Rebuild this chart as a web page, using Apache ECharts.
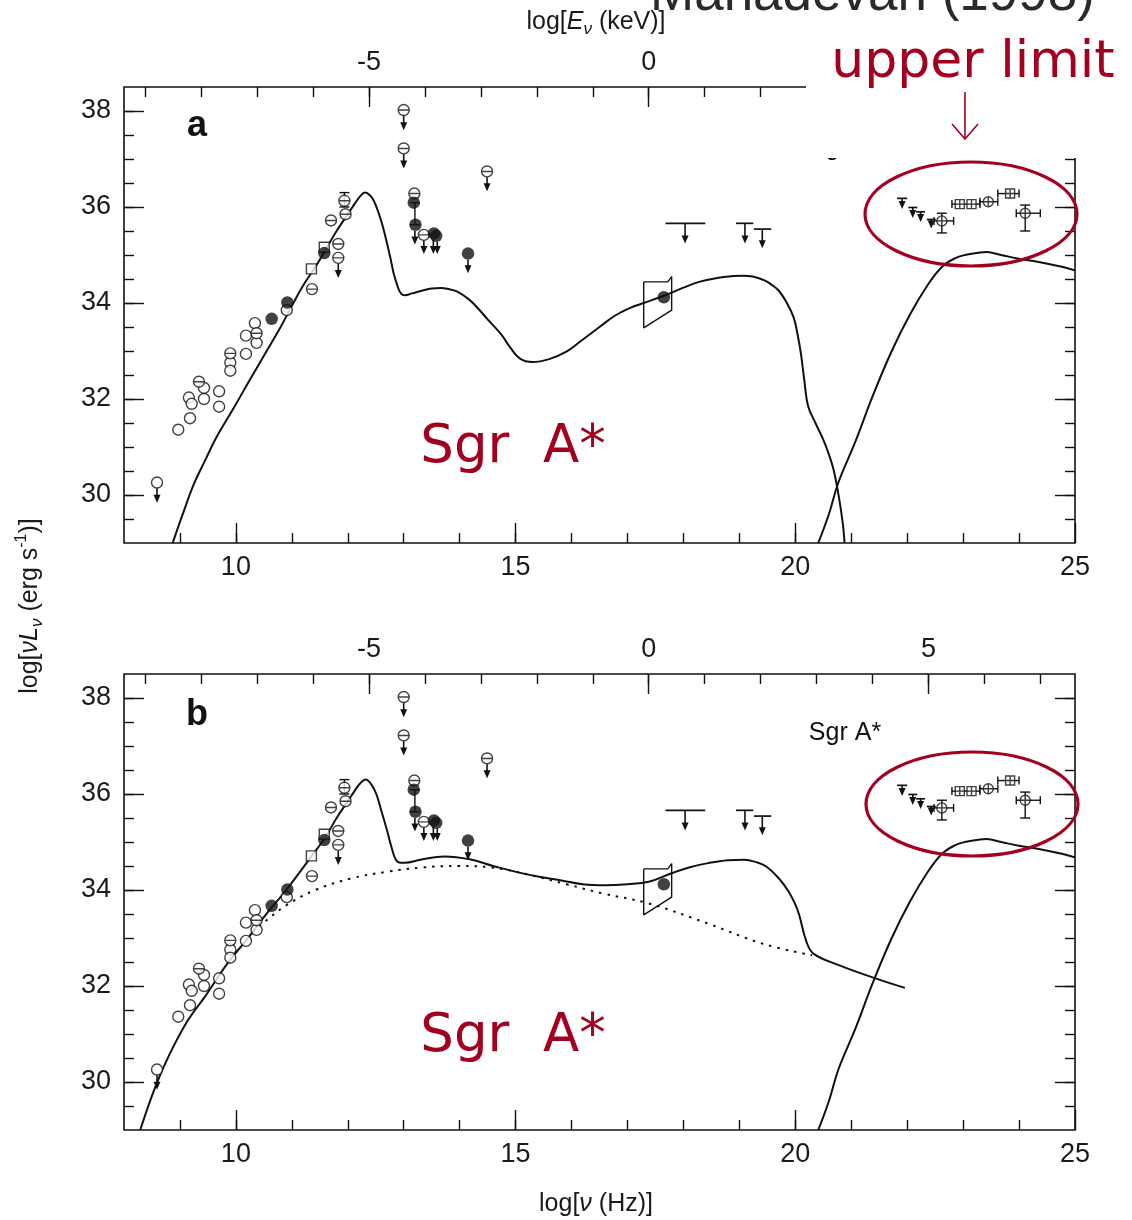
<!DOCTYPE html>
<html>
<head>
<meta charset="utf-8">
<script src="https://cdn.jsdelivr.net/npm/echarts@6/dist/echarts.min.js"></script>
<style>
  html, body { margin: 0; padding: 0; background: #fff; }
  #main { width: 1132px; height: 1220px; }
</style>
</head>
<body>
<div id="main"></div>
<script>
// ---- data (log nu [Hz], log nuL_nu [erg/s]) ----
var E_SHIFT = 17.38; // log nu of 1 keV

var bottomLabels = [10, 15, 20, 25];
var topLabels = [-5, 0, 5];
var yLabels = [30, 32, 34, 36, 38];

// panel a model
var modelA = [[8.87,29.0],[9.05,29.6],[9.25,30.23],[9.45,30.72],[9.65,31.2],[9.95,31.79],[10.25,32.4],[10.55,33.0],[10.8,33.5],[11.0,33.94],[11.2,34.36],[11.42,34.75],[11.6,35.1],[11.8,35.5],[12.0,35.85],[12.12,36.06],[12.22,36.22],[12.31,36.3],[12.4,36.24],[12.47,36.12],[12.55,35.88],[12.63,35.58],[12.7,35.25],[12.76,34.95],[12.82,34.62],[12.89,34.35],[12.95,34.2],[13.02,34.16],[13.15,34.2],[13.34,34.26],[13.5,34.3],[13.66,34.31],[13.8,34.29],[13.95,34.24],[14.17,34.07],[14.35,33.86],[14.5,33.66],[14.74,33.35],[14.9,33.08],[15.08,32.84],[15.3,32.77],[15.6,32.83],[15.9,32.98],[16.18,33.22],[16.5,33.5],[16.78,33.74],[17.05,33.9],[17.29,34.0],[17.65,34.15],[18.0,34.32],[18.28,34.44],[18.6,34.52],[18.88,34.56],[19.06,34.57],[19.24,34.55],[19.45,34.47],[19.6,34.36],[19.71,34.25],[19.85,34.0],[19.97,33.7],[20.04,33.35],[20.1,32.95],[20.16,32.4],[20.23,31.85],[20.36,31.5],[20.49,31.18],[20.6,30.85],[20.69,30.5],[20.78,29.95],[20.85,29.4],[20.88,29.0]];

// panel b model (solid) and the dotted component
var modelB = [[8.29,29.0],[8.56,29.9],[8.82,30.59],[9.14,31.28],[9.46,31.8],[9.85,32.47],[10.23,33.02],[10.55,33.51],[10.9,34.0],[11.35,34.7],[11.6,35.1],[11.8,35.5],[12.0,35.85],[12.12,36.06],[12.22,36.22],[12.32,36.3],[12.42,36.2],[12.51,36.0],[12.6,35.65],[12.7,35.25],[12.78,34.9],[12.86,34.63],[12.94,34.57],[13.02,34.57],[13.3,34.63],[13.73,34.7],[14.18,34.64],[14.63,34.49],[15.27,34.31],[15.82,34.2],[16.2,34.12],[16.61,34.1],[17.0,34.12],[17.38,34.17],[17.79,34.35],[18.1,34.47],[18.44,34.56],[18.8,34.62],[19.09,34.63],[19.3,34.58],[19.48,34.49],[19.7,34.25],[19.88,33.97],[20.0,33.7],[20.07,33.48],[20.2,32.92],[20.33,32.67],[20.79,32.43],[21.38,32.18],[21.96,31.96]];
var dottedB = [[10.3,33.12],[10.58,33.4],[10.9,33.68],[11.42,34.0],[12.06,34.24],[12.7,34.38],[13.34,34.47],[13.99,34.5],[14.56,34.47],[15.27,34.31],[15.91,34.12],[16.55,33.93],[17.38,33.72],[18.44,33.3],[19.42,32.88],[20.3,32.64]];

// gamma-ray component (both panels)
var gammaCurve = [[20.41,29.0],[20.6,29.6],[20.77,30.26],[21.07,31.1],[21.39,32.08],[21.72,32.99],[22.05,33.76],[22.37,34.38],[22.62,34.75],[22.85,34.93],[23.03,35.0],[23.3,35.05],[23.42,35.06],[23.68,35.0],[24.0,34.92],[24.33,34.86],[24.7,34.77],[25.0,34.68]];

// X-ray bow tie
var xrayBox = [[17.29,34.44],[17.72,34.44],[17.79,34.55],[17.79,33.85],[17.29,33.48],[17.29,34.44]];

// observations
var openPts = [[8.59,30.26],[8.97,31.36],[9.18,31.6],[9.16,32.03],[9.21,31.9],[9.43,32.23],[9.43,32.0],[9.70,32.16],[9.70,31.84],[9.9,32.76],[9.9,32.59],[10.18,33.32],[10.18,32.94],[10.34,33.58],[10.37,33.17],[10.91,33.85]];
var linedPts = [[9.34,32.36],[9.9,32.95],[10.37,33.37],[11.36,34.29],[11.7,35.72],[11.83,35.23],[11.83,34.94],[11.94,36.13],[11.96,35.85],[13.0,38.02],[13.0,37.22],[13.19,36.28],[13.36,35.42],[14.49,36.74]];
var squarePts = [[11.35,34.71],[11.58,35.16]];
var filledPts = [[10.64,33.67],[10.92,34.01],[11.58,35.04],[13.18,36.09],[13.21,35.63],[13.54,35.45],[13.58,35.4],[14.15,35.03],[17.65,34.12]];
var gammaCircles = [[22.62,35.71],[23.45,36.11],[24.11,35.87]];
var gammaSquares = [[22.94,36.06],[23.15,36.06],[23.84,36.28]];

// upper limits: [x, from, tip]
var upperArrows = [[8.59,30.14,29.84],[11.83,34.82,34.52],[13.0,37.9,37.6],[13.0,37.1,36.8],[13.2,35.5,35.22],[13.36,35.3,35.02],[13.53,35.32,35.02],[13.6,35.28,35.02],[14.15,34.9,34.62],[14.49,36.62,36.33],[18.03,35.66,35.24],[19.10,35.66,35.24],[19.41,35.54,35.14],[21.91,36.18,35.96],[22.1,35.99,35.77],[22.24,35.9,35.69],[22.43,35.74,35.55]];
// horizontal bars: [x1, x2, y]
var ulBars = [[17.68,18.39,35.66],[18.94,19.25,35.66],[19.26,19.57,35.54],[21.82,22.0,36.18],[22.02,22.18,35.99],[22.16,22.32,35.9],[22.35,22.51,35.74]];
// error bars: vertical [x, lo, hi], horizontal [lo, hi, y]
var vErr = [[11.94,36.0,36.3],[13.2,35.63,36.09],[22.62,35.46,35.87],[24.11,35.5,36.04]];
var hErr = [[22.48,22.83,35.71],[23.95,24.38,35.87],[22.8,23.3,36.06],[23.3,23.62,36.11],[23.62,24.0,36.28]];

// ---- helpers ----
var INK = '#111';
var RED = '#a3001f';
var tickFont = { fontFamily: 'Liberation Sans', fontSize: 27, color: '#1a1a1a' };

function range(a, b, s) {
  var out = [];
  for (var v = a; v <= b + 1e-9; v += s) out.push(Math.round(v * 100) / 100);
  return out;
}

var xAxes = [], yAxes = [], series = [];
var grids = [
  { left: 124, top: 87, width: 951, height: 456 },
  { left: 124, top: 674, width: 951, height: 456 }
];

function tickAxis(g, pos, min, max, values, len, labels) {
  var ax = {
    gridIndex: g, type: 'value', position: pos, min: min, max: max,
    axisLine: { show: false, onZero: false }, splitLine: { show: false },
    axisTick: { show: true, inside: true, length: len, customValues: values,
                lineStyle: { color: INK, width: 1.4 } },
    axisLabel: { show: !!labels, customValues: values, margin: 11 }
  };
  if (labels) { Object.assign(ax.axisLabel, tickFont); }
  return ax;
}

grids.forEach(function (gr, g) {
  xAxes.push(
    tickAxis(g, 'bottom', 8, 25, bottomLabels, 20, true),
    tickAxis(g, 'bottom', 8, 25, range(9, 24, 1), 10, false),
    tickAxis(g, 'top', 8 - E_SHIFT, 25 - E_SHIFT, topLabels, 20, true),
    tickAxis(g, 'top', 8 - E_SHIFT, 25 - E_SHIFT, range(-9, 7, 1), 10, false)
  );
  yAxes.push(
    tickAxis(g, 'left', 29, 38.5, yLabels, 20, true),
    tickAxis(g, 'left', 29, 38.5, range(29.5, 38, 0.5), 10, false),
    tickAxis(g, 'right', 29, 38.5, yLabels, 20, false),
    tickAxis(g, 'right', 29, 38.5, range(29.5, 38, 0.5), 10, false)
  );
  yAxes[yAxes.length - 4].axisLabel.margin = 13;
});

function line(g, data, extra) {
  return Object.assign({
    type: 'line', xAxisIndex: g * 4, yAxisIndex: g * 4, data: data,
    showSymbol: false, symbol: 'none', smooth: 0.4,
    lineStyle: { color: INK, width: 2 }, silent: true, z: 3
  }, extra || {});
}
function scatter(g, data, symbol, size, filled) {
  return {
    type: 'scatter', xAxisIndex: g * 4, yAxisIndex: g * 4, data: data,
    symbol: symbol, symbolSize: size, silent: true, z: 5,
    itemStyle: filled ? { color: INK } :
      { color: '#fff', borderColor: INK, borderWidth: 1.4 }
  };
}
function custom(g, data, render) {
  return { type: 'custom', xAxisIndex: g * 4, yAxisIndex: g * 4, data: data,
           renderItem: render, silent: true, z: 4 };
}
var stroke = { stroke: INK, lineWidth: 1.4 };
function renderArrow(params, api) {
  var p0 = api.coord([api.value(0), api.value(1)]);
  var p1 = api.coord([api.value(0), api.value(2)]);
  return { type: 'group', children: [
    { type: 'line', shape: { x1: p0[0], y1: p0[1], x2: p1[0], y2: p1[1] - 5 }, style: { stroke: INK, lineWidth: 1.6 } },
    { type: 'polygon', shape: { points: [[p1[0] - 3.5, p1[1] - 8], [p1[0] + 3.5, p1[1] - 8], [p1[0], p1[1]]] },
      style: { fill: INK } }
  ] };
}
function renderHBar(params, api) {
  var a = api.coord([api.value(0), api.value(2)]);
  var b = api.coord([api.value(1), api.value(2)]);
  return { type: 'line', shape: { x1: a[0], y1: a[1], x2: b[0], y2: b[1] }, style: { stroke: INK, lineWidth: 1.7 } };
}
function renderVErr(params, api) {
  var a = api.coord([api.value(0), api.value(1)]);
  var b = api.coord([api.value(0), api.value(2)]);
  return { type: 'group', children: [
    { type: 'line', shape: { x1: a[0], y1: a[1], x2: b[0], y2: b[1] }, style: stroke },
    { type: 'line', shape: { x1: a[0] - 5, y1: a[1], x2: a[0] + 5, y2: a[1] }, style: stroke },
    { type: 'line', shape: { x1: b[0] - 5, y1: b[1], x2: b[0] + 5, y2: b[1] }, style: stroke }
  ] };
}
function renderHErr(params, api) {
  var a = api.coord([api.value(0), api.value(2)]);
  var b = api.coord([api.value(1), api.value(2)]);
  return { type: 'group', children: [
    { type: 'line', shape: { x1: a[0], y1: a[1], x2: b[0], y2: b[1] }, style: stroke },
    { type: 'line', shape: { x1: a[0], y1: a[1] - 4, x2: a[0], y2: a[1] + 4 }, style: stroke },
    { type: 'line', shape: { x1: b[0], y1: b[1] - 4, x2: b[0], y2: b[1] + 4 }, style: stroke }
  ] };
}

var circleLine = 'path://M10,0A10,10 0 1,1 -10,0A10,10 0 1,1 10,0ZM-10,0L10,0';
var circleCross = 'path://M10,0A10,10 0 1,1 -10,0A10,10 0 1,1 10,0ZM-10,0L10,0M0,-10L0,10';
var squareCross = 'path://M-10,-10L10,-10L10,10L-10,10ZM-10,0L10,0M0,-10L0,10';

[0, 1].forEach(function (g) {
  series.push(line(g, g === 0 ? modelA : modelB));
  series.push(line(g, gammaCurve));
  if (g === 1) {
    series.push(line(1, dottedB, { lineStyle: { color: INK, width: 2, type: [2.5, 6] } }));
  }
  series.push(line(g, xrayBox, { smooth: false, lineStyle: { color: INK, width: 1.4 } }));
  series.push(custom(g, upperArrows, renderArrow));
  series.push(custom(g, ulBars, renderHBar));
  series.push(custom(g, vErr, renderVErr));
  series.push(custom(g, hErr, renderHErr));
  series.push(scatter(g, openPts, 'circle', 11, false));
  series.push(scatter(g, linedPts, circleLine, 11, false));
  series.push(scatter(g, squarePts, 'rect', 10, false));
  series.push(scatter(g, filledPts, 'circle', 12.5, true));
  series.push(scatter(g, gammaCircles, circleCross, 10, false));
  series.push(scatter(g, gammaSquares, squareCross, 9, false));
});

var rich = {
  i: { fontStyle: 'italic', fontFamily: 'Liberation Sans', fontSize: 25, lineHeight: 32, verticalAlign: 'middle' },
  s: { fontStyle: 'italic', fontFamily: 'Liberation Sans', fontSize: 17, lineHeight: 17, verticalAlign: 'bottom' },
  p: { fontFamily: 'Liberation Sans', fontSize: 16, lineHeight: 17, verticalAlign: 'top' }
};
function label(x, y, text, rot) {
  return { type: 'text', x: x, y: y, rotation: rot || 0, z: 50,
    style: { text: text, rich: rich, fill: '#1a1a1a', align: 'center', verticalAlign: 'middle',
             fontFamily: 'Liberation Sans', fontSize: 25, lineHeight: 32 } };
}

var graphics = [
  label(596, 22, 'log[{i|E}{s|ν} (keV)]'),
  label(596, 1204, 'log[{i|ν} (Hz)]'),
  label(30, 606, 'log[{i|νL}{s|ν} (erg s{p|-1})]', Math.PI / 2),
  { type: 'text', x: 197, y: 126, z: 50, style: { text: 'a', fontFamily: 'Liberation Sans', fontWeight: 900, fontSize: 36, fill: INK, align: 'center', verticalAlign: 'middle' } },
  { type: 'text', x: 197, y: 715, z: 50, style: { text: 'b', fontFamily: 'Liberation Sans', fontWeight: 900, fontSize: 36, fill: INK, align: 'center', verticalAlign: 'middle' } },
  { type: 'text', x: 845, y: 148, z: 50, style: { text: 'Sgr A*', fontFamily: 'Liberation Sans', fontSize: 25, fill: INK, align: 'center', verticalAlign: 'middle' } },
  { type: 'text', x: 845, y: 733, z: 50, style: { text: 'Sgr A*', fontFamily: 'Liberation Sans', fontSize: 25, fill: INK, align: 'center', verticalAlign: 'middle' } },
  // white patch of the slide that covers the figure corner
  { type: 'rect', z: 80, shape: { x: 806, y: 0, width: 326, height: 158 }, style: { fill: '#fff' } },
  { type: 'text', x: 650, y: 22, z: 90, style: { text: 'Mahadevan (1998)', fontFamily: 'Liberation Sans', fontSize: 53, fill: '#2a2a2a', align: 'left', verticalAlign: 'bottom' } },
  { type: 'text', x: 973, y: 63, z: 90, style: { text: 'upper limit', fontFamily: 'DejaVu Sans', fontSize: 52, fill: RED, align: 'center', verticalAlign: 'middle' } },
  { type: 'line', z: 90, shape: { x1: 965, y1: 92, x2: 965, y2: 139 }, style: { stroke: RED, lineWidth: 1.6 } },
  { type: 'polyline', z: 90, shape: { points: [[952, 124], [965, 139], [978, 124]] }, style: { stroke: RED, lineWidth: 1.6, fill: null } },
  { type: 'ellipse', z: 90, shape: { cx: 971, cy: 214, rx: 106, ry: 52 }, style: { stroke: RED, lineWidth: 3.2, fill: null } },
  { type: 'ellipse', z: 90, shape: { cx: 972, cy: 804, rx: 106, ry: 52 }, style: { stroke: RED, lineWidth: 3.2, fill: null } },
  { type: 'text', x: 513, y: 448, z: 90, style: { text: 'Sgr  A*', fontFamily: 'DejaVu Sans', fontSize: 53, fill: RED, align: 'center', verticalAlign: 'middle' } },
  { type: 'text', x: 513, y: 1037, z: 90, style: { text: 'Sgr  A*', fontFamily: 'DejaVu Sans', fontSize: 53, fill: RED, align: 'center', verticalAlign: 'middle' } }
];

var chart = echarts.init(document.getElementById('main'));
chart.setOption({
  animation: false,
  backgroundColor: '#fff',
  grid: grids.map(function (g) {
    return Object.assign({ show: true, borderColor: INK, borderWidth: 1.6, backgroundColor: 'transparent' }, g);
  }),
  xAxis: xAxes,
  yAxis: yAxes,
  series: series,
  graphic: graphics
});
</script>
</body>
</html>
